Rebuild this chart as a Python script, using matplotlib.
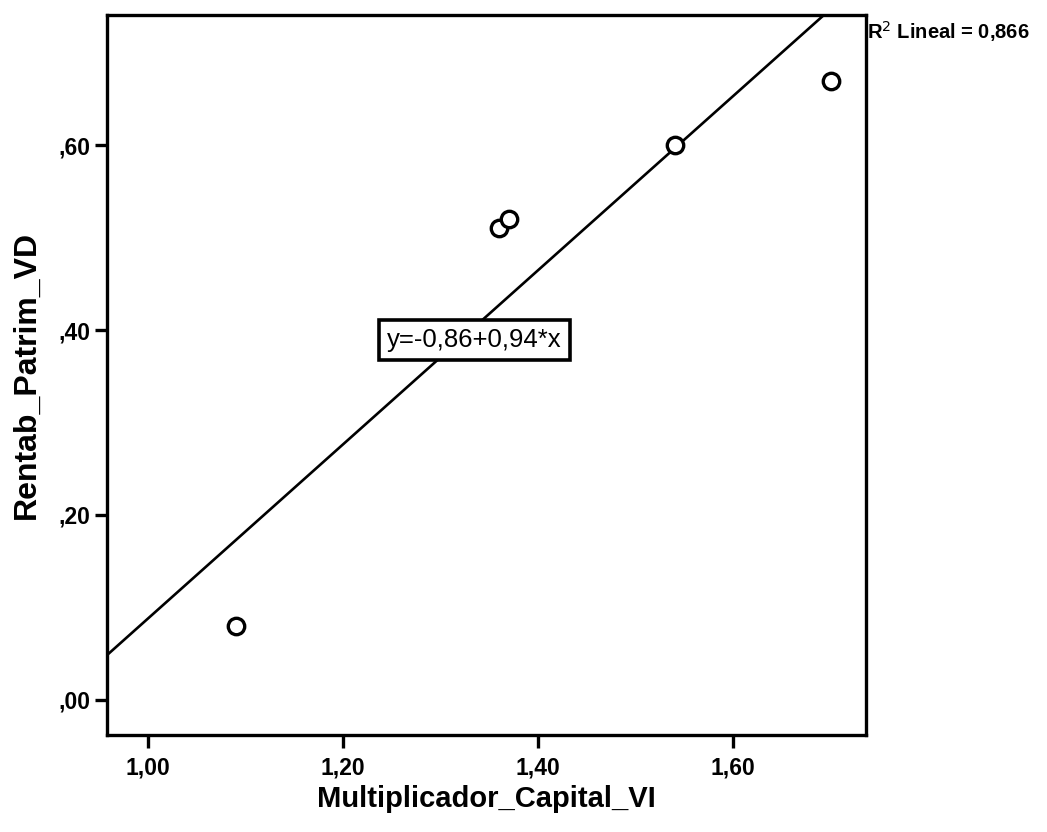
import matplotlib.pyplot as plt
import numpy as np

plt.rcParams['font.family'] = ['Liberation Sans', 'DejaVu Sans']

# datos
multiplicador = [1.09, 1.36, 1.37, 1.54, 1.70]
rentab = [0.08, 0.51, 0.52, 0.60, 0.67]
xticks = [1.00, 1.20, 1.40, 1.60]
xtick_labels = ["1,00", "1,20", "1,40", "1,60"]
yticks = [0.00, 0.20, 0.40, 0.60]
ytick_labels = [",00", ",20", ",40", ",60"]

fig = plt.figure(figsize=(10.47, 8.32), dpi=100)
ax = fig.add_axes([0.102, 0.117, 0.725, 0.865])

xlim = (0.958, 1.736)
ylim = (-0.038, 0.741)

# recta de regresión
b, a = np.polyfit(multiplicador, rentab, 1)
xs = np.linspace(xlim[0], xlim[1], 200)
ax.plot(xs, a + b * xs, color='black', lw=1.9)

ax.scatter(multiplicador, rentab, s=140, facecolors='white',
           edgecolors='black', linewidths=2.4, zorder=3)

ax.set_xlim(*xlim)
ax.set_ylim(*ylim)
ax.set_xticks(xticks)
ax.set_xticklabels(xtick_labels)
ax.set_yticks(yticks)
ax.set_yticklabels(ytick_labels)
ax.tick_params(direction='out', length=9, width=2.4, labelsize=16.5, pad=3)
ax.tick_params(axis='x', pad=7)
for lbl in ax.get_xticklabels() + ax.get_yticklabels():
    lbl.set_fontweight('bold')
for sp in ax.spines.values():
    sp.set_linewidth(2.4)

ax.set_xlabel("Multiplicador_Capital_VI", fontsize=21, fontweight='bold', labelpad=4)
ax.set_ylabel("Rentab_Patrim_VD", fontsize=23, fontweight='bold', labelpad=12)

ax.text(1.335, 0.389, "y=-0,86+0,94*x", fontsize=18.5, ha='center', va='center',
        bbox=dict(facecolor='white', edgecolor='black', lw=2.6, pad=6), zorder=4)

ax.text(1.0015, 0.977, "R$^2$ Lineal = 0,866", transform=ax.transAxes,
        fontsize=14.5, fontweight='bold', ha='left', va='center')

plt.savefig("out.png", dpi=100)
